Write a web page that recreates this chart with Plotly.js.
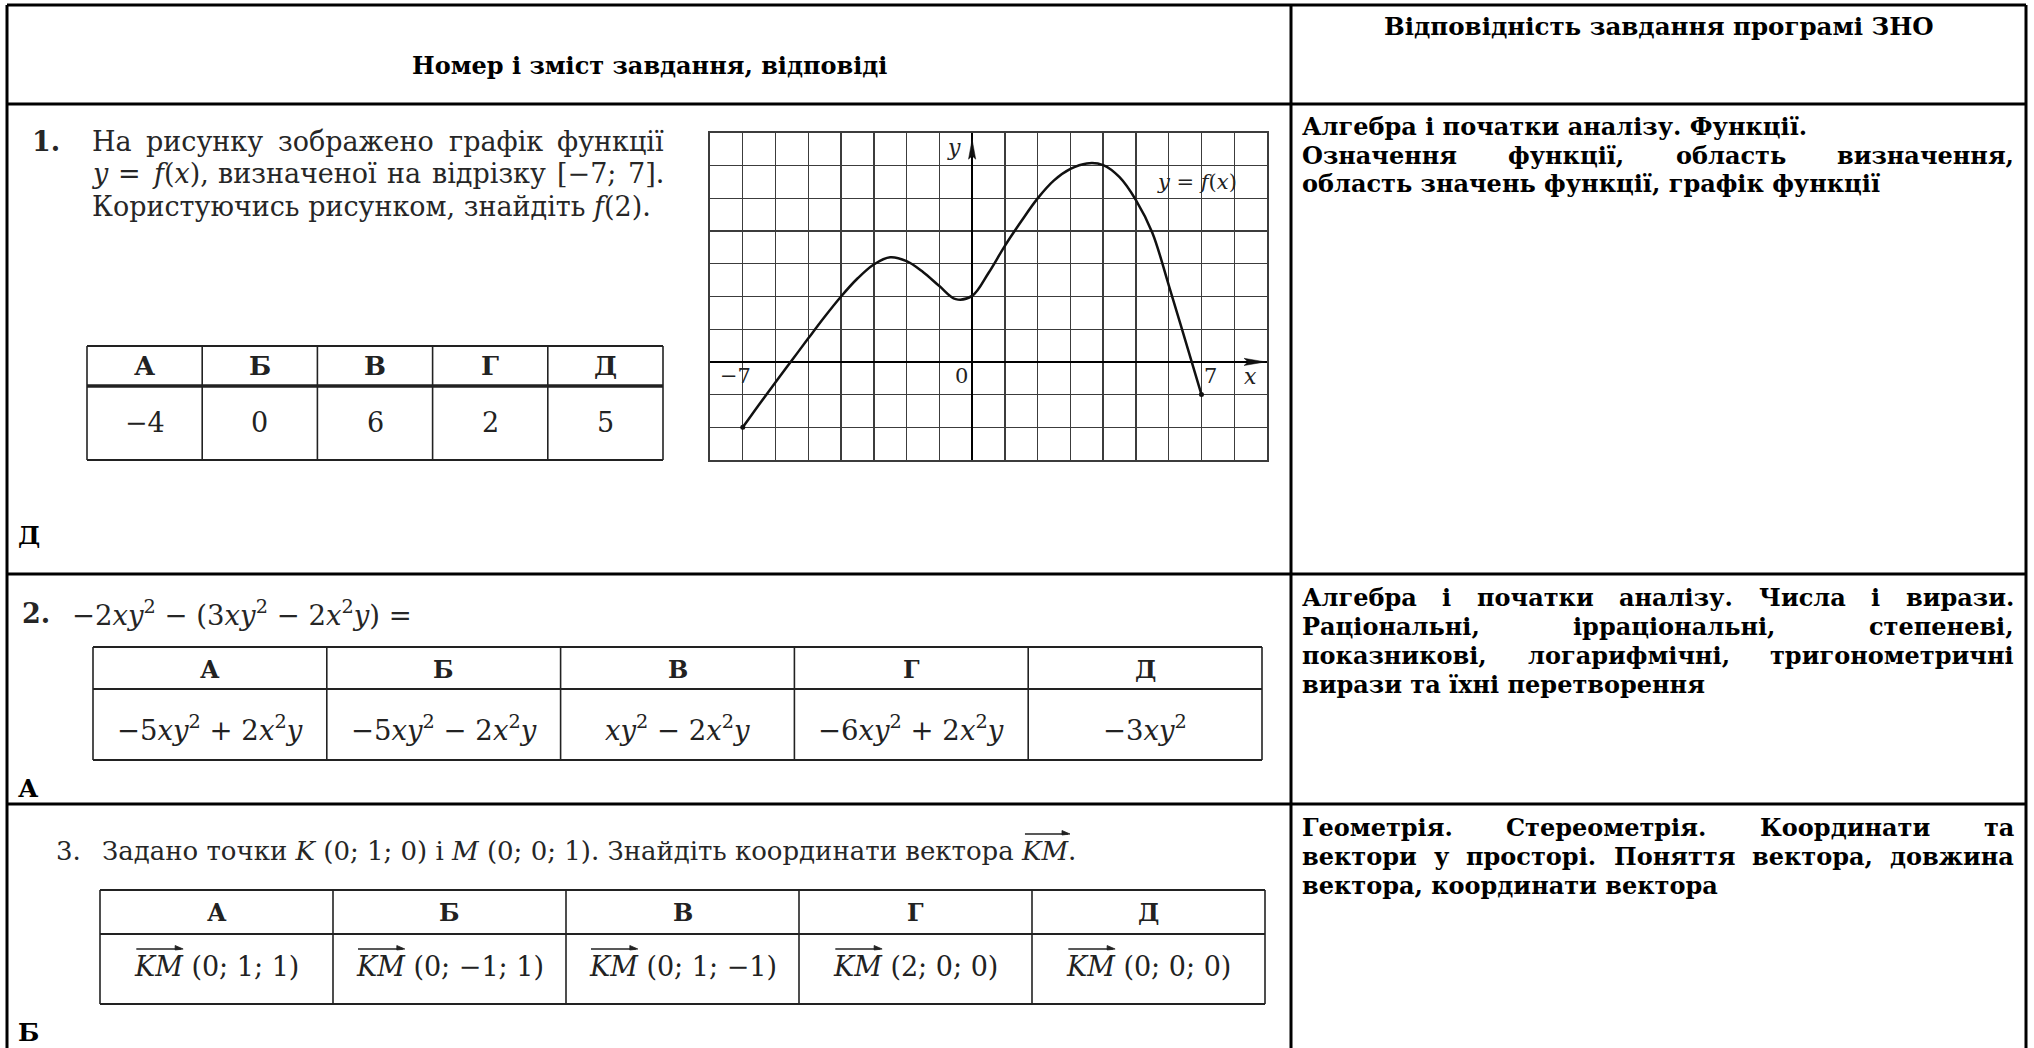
<!DOCTYPE html>
<html><head><meta charset="utf-8">
<script src="https://cdn.plot.ly/plotly-3.0.1.min.js"></script>
<style>html,body{margin:0;padding:0;background:#fff;overflow:hidden}#chart{width:2034px;height:1048px}</style>
</head><body><div id="chart"></div>
<script>
// ---------------- data ----------------
const headerTexts = ['Номер і зміст завдання, відповіді', 'Відповідність завдання програмі ЗНО'];
const taskNumbers = ['1.', '2.', '3.'];
const optionLetters = ['А', 'Б', 'В', 'Г', 'Д'];
const task1Lines = [
  ['На', 'рисунку', 'зображено', 'графік', 'функції'],
  ['<i>y</i>', '=', '<i>f</i>(<i>x</i>),', 'визначеної', 'на', 'відрізку', '[−7;', '7].'],
  ['Користуючись рисунком, знайдіть <i>f</i>(2).']
];
const task1Options = ['−4', '0', '6', '2', '5'];
const task2Text = '−2<i>xy</i><sup>2</sup> − (3<i>xy</i><sup>2</sup> − 2<i>x</i><sup>2</sup><i>y</i>) =';
const task2Options = [
  '−5<i>xy</i><sup>2</sup> + 2<i>x</i><sup>2</sup><i>y</i>',
  '−5<i>xy</i><sup>2</sup> − 2<i>x</i><sup>2</sup><i>y</i>',
  '<i>xy</i><sup>2</sup> − 2<i>x</i><sup>2</sup><i>y</i>',
  '−6<i>xy</i><sup>2</sup> + 2<i>x</i><sup>2</sup><i>y</i>',
  '−3<i>xy</i><sup>2</sup>'
];
const task3Parts = ['Задано точки ', '<i>K</i>', ' (0; 1; 0) і ', '<i>M</i>', ' (0; 0; 1). Знайдіть координати вектора ', '<i>KM</i>', '.'];
const vectorName = 'KM';
const task3Options = ['(0; 1; 1)', '(0; −1; 1)', '(0; 1; −1)', '(2; 0; 0)', '(0; 0; 0)'];
const answers = ['Д', 'А', 'Б'];
// [text, justified]
const topic1 = [['Алгебра і початки аналізу. Функції.', false], ['Означення функції, область визначення,', true], ['область значень функції, графік функції', false]];
const topic2 = [['Алгебра і початки аналізу. Числа і вирази.', true], ['Раціональні, ірраціональні, степеневі,', true], ['показникові, логарифмічні, тригонометричні', true], ['вирази та їхні перетворення', false]];
const topic3 = [['Геометрія. Стереометрія. Координати та', true], ['вектори у просторі. Поняття вектора, довжина', true], ['вектора, координати вектора', false]];
// graph of y = f(x) on [-7; 7]
const fx = [-7, -6.5, -6, -5.5, -5, -4.5, -4, -3.5, -3, -2.5, -2, -1.5, -1, -0.5, 0, 0.5, 1, 1.5, 2, 2.5, 3, 3.5, 4, 4.5, 5, 5.5, 6, 6.5, 7];
const fy = [-2, -1.3, -0.62, 0.05, 0.72, 1.38, 2.0, 2.55, 2.98, 3.2, 3.08, 2.75, 2.32, 1.92, 2.02, 2.72, 3.55, 4.3, 5.0, 5.55, 5.9, 6.07, 6.02, 5.65, 4.95, 3.95, 2.35, 0.68, -1];
const axisTickVals = [-7, 0, 7];
const axisTickText = ['−7', '0', '7'];
const funcLabel = '<i>y</i> = <i>f</i>(<i>x</i>)';

// ---------------- helpers ----------------
const W = 2034, H = 1048;
const X = p => p / W, Y = p => 1 - p / H;
const SERIF = 'DejaVu Serif';
const TXT = '#262626';
const cv = document.createElement('canvas');
const ctx = cv.getContext('2d');
function measureRich(s, size, bold) {
  const clean = s.replace(/<\/?(b|sup)>/g, '');
  let italic = false, w = 0;
  clean.split(/(<\/?i>)/).forEach(p => {
    if (p === '<i>') { italic = true; return; }
    if (p === '</i>') { italic = false; return; }
    if (!p) return;
    ctx.font = (italic ? 'italic ' : '') + (bold ? 'bold ' : '') + size + "px '" + SERIF + "'";
    w += ctx.measureText(p).width;
  });
  return w;
}
const shapes = [], anns = [];
function hline(x0, x1, y, w, c) { shapes.push({type: 'line', xref: 'paper', yref: 'paper', x0: X(x0), x1: X(x1), y0: Y(y), y1: Y(y), line: {color: c || '#000', width: w}}); }
function vline(x, y0, y1, w, c) { shapes.push({type: 'line', xref: 'paper', yref: 'paper', x0: X(x), x1: X(x), y0: Y(y0), y1: Y(y1), line: {color: c || '#000', width: w}}); }
function txt(t, x, y, size, bold, color, anchor) {
  anns.push({text: bold ? '<b>' + t + '</b>' : t, x: X(anchor === 'left' ? x - 2 : x), y: Y(y), xref: 'paper', yref: 'paper',
    showarrow: false, xanchor: anchor || 'center', yanchor: 'middle', font: {family: SERIF, size: size, color: color || TXT}});
}
function justify(words, left, right, y, size, bold, color) {
  const ws = words.map(w => measureRich(w, size, bold));
  const total = ws.reduce((a, b) => a + b, 0);
  let gap = (right - left - total) / (words.length - 1);
  const sp = measureRich(' ', size, bold);
  if (gap < sp * 0.7) gap = sp * 0.7;
  let x = left;
  words.forEach((w, i) => { txt(w, x, y, size, bold, color, 'left'); x += ws[i] + gap; });
}
function vecArrow(x0, x1, y) {
  hline(x0, x1 - 2, y, 1.3, '#222');
  shapes.push({type: 'path', xref: 'paper', yref: 'paper', fillcolor: '#222', line: {color: '#222', width: 0.8},
    path: 'M' + X(x1) + ',' + Y(y) + ' L' + X(x1 - 8) + ',' + Y(y - 3.5) + ' L' + X(x1 - 8) + ',' + Y(y + 1) + ' Z'});
}

// ---------------- main table frame ----------------
const L = 7, R = 2026, MID = 1291;
[5, 104, 574, 804].forEach(y => hline(L, R, y, 3));
vline(L, 5, 1048, 3); vline(R, 5, 1048, 3); vline(MID, 5, 1048, 3);
txt(headerTexts[0], (L + MID) / 2, 66, 24, true, '#000');
txt(headerTexts[1], (MID + R) / 2, 27, 24.5, true, '#000');

// ---------------- option tables ----------------
function optTable(x0, x1, y0, ys, y1, sepW, hy, vy, values, lsize, vsize, cellFn) {
  const cw = (x1 - x0) / 5;
  hline(x0, x1, y0, 2, '#222'); hline(x0, x1, ys, sepW, '#222'); hline(x0, x1, y1, 2, '#222');
  for (let i = 0; i <= 5; i++) vline(x0 + i * cw, y0, y1, 1.6, '#222');
  optionLetters.forEach((l, i) => txt(l, x0 + cw * (i + 0.5), hy, lsize, true, '#222'));
  values.forEach((v, i) => cellFn ? cellFn(v, x0 + cw * (i + 0.5), vy) : txt(v, x0 + cw * (i + 0.5), vy, vsize, false, '#222'));
}

// task 1
const FS = 27;
txt(taskNumbers[0], 32, 141, FS, true, TXT, 'left');
const t1y = [141, 174, 207];
justify(task1Lines[0], 92, 664, t1y[0], FS, false);
justify(task1Lines[1], 92, 664, t1y[1], FS, false);
txt(task1Lines[2][0], 92, t1y[2], FS, false, TXT, 'left');
optTable(87, 663, 346, 386, 460, 3.5, 366, 423, task1Options, 26, FS);
txt(answers[0], 18, 535, 25, true, '#000', 'left');

// task 2
txt(taskNumbers[1], 22, 613, FS, true, TXT, 'left');
txt(task2Text, 72, 613, 27.5, false, TXT, 'left');
optTable(93, 1262, 647, 689, 760, 1.8, 669, 728, task2Options, 24, 27.5);
txt(answers[1], 18, 788, 25, true, '#000', 'left');

// task 3
const F3 = 26;
txt(taskNumbers[2], 56, 851, F3, false, TXT, 'left');
txt(task3Parts.join(''), 102, 851, F3, false, TXT, 'left');
(function () {
  const pre = measureRich(task3Parts.slice(0, 5).join(''), F3, false);
  const wk = measureRich(task3Parts[5], F3, false);
  vecArrow(102 + pre + 3, 102 + pre + wk + 2, 834);
})();
optTable(100, 1265, 890, 934, 1004, 1.8, 912, 966, task3Options, 24, FS, (v, cx, vy) => {
  const s = '<i>' + vectorName + '</i> ' + v;
  const wAll = measureRich(s, FS, false), wk = measureRich('<i>' + vectorName + '</i>', FS, false);
  txt(s, cx, vy, FS, false, '#222');
  const left = cx - wAll / 2;
  vecArrow(left + 2, left + wk + 1, vy - 17);
});
txt(answers[2], 18, 1032, 25, true, '#000', 'left');

// ---------------- topics (right column) ----------------
function topic(lines, y0) {
  lines.forEach((ln, i) => {
    const y = y0 + i * 29;
    if (ln[1]) justify(ln[0].split(' '), 1302, 2014, y, 24, true, '#000');
    else txt(ln[0], 1302, y, 24, true, '#000', 'left');
  });
}
topic(topic1, 126); topic(topic2, 597); topic(topic3, 827);

// ---------------- graph ----------------
const GX0 = 710, GX1 = 1267, GY0 = 133, GY1 = 460;
const gAnn = (t, x, y, size) => ({text: t, x: x, y: y, xref: 'x', yref: 'y', showarrow: false, xanchor: 'center', yanchor: 'middle', font: {family: SERIF, size: size, color: '#222'}});
axisTickVals.forEach((v, i) => anns.push(gAnn(axisTickText[i], v + (v === 0 ? -0.32 : (v < 0 ? -0.22 : 0.28)), -0.42, 21)));
anns.push(gAnn('<i>x</i>', 8.5, -0.45, 22));
anns.push(gAnn('<i>y</i>', -0.55, 6.55, 22));
anns.push(gAnn(funcLabel, 6.85, 5.5, 21));
// axis arrow heads
shapes.push({type: 'path', xref: 'x', yref: 'y', fillcolor: '#111', line: {color: '#111', width: 0.5}, path: 'M 8.95,0 L 8.3,0.11 L 8.42,0 L 8.3,-0.11 Z'});
shapes.push({type: 'path', xref: 'x', yref: 'y', fillcolor: '#111', line: {color: '#111', width: 0.5}, path: 'M 0,6.8 L -0.11,6.2 L 0,6.3 L 0.11,6.2 Z'});

const axCommon = {showgrid: true, gridcolor: '#3c3c3c', gridwidth: 1.4, dtick: 1, tick0: 0, zeroline: true, zerolinecolor: '#000', zerolinewidth: 1.7,
  showticklabels: false, ticks: '', showline: true, linecolor: '#3c3c3c', linewidth: 1.6, mirror: true, fixedrange: true};
const traces = [
  {x: fx, y: fy, type: 'scatter', mode: 'lines', line: {color: '#111', width: 2.5, shape: 'spline', smoothing: 1}, hoverinfo: 'skip'},
  {x: [fx[0], fx[fx.length - 1]], y: [fy[0], fy[fy.length - 1]], type: 'scatter', mode: 'markers', marker: {color: '#111', size: 5}, hoverinfo: 'skip'}
];
const layout = {
  width: W, height: H, margin: {l: 0, r: 0, t: 0, b: 0, pad: 0}, showlegend: false,
  paper_bgcolor: '#fff', plot_bgcolor: '#fff', font: {family: SERIF},
  xaxis: Object.assign({domain: [X(GX0), X(GX1)], range: [-8, 9]}, axCommon),
  yaxis: Object.assign({domain: [Y(GY1), Y(GY0)], range: [-3, 7]}, axCommon),
  shapes: shapes, annotations: anns
};
Plotly.newPlot('chart', traces, layout, {staticPlot: true, displayModeBar: false});
</script></body></html>
